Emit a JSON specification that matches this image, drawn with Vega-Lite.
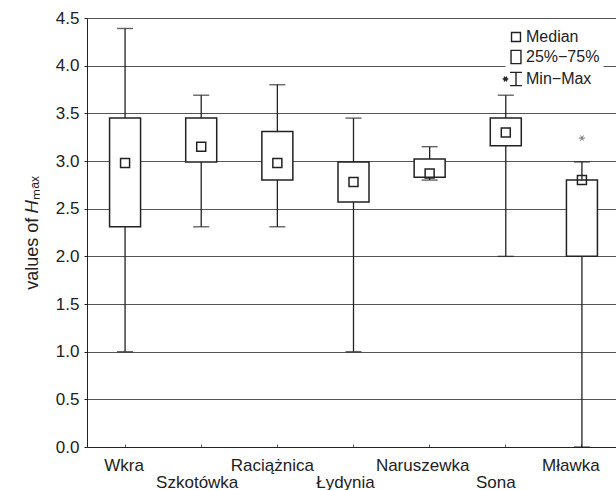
{
  "$schema": "https://vega.github.io/schema/vega-lite/v6.json",
  "width": 529,
  "height": 429,
  "autosize": {"type": "none"},
  "padding": {"left": 87, "top": 18, "right": 0, "bottom": 43},
  "background": "white",
  "config": {
    "font": "Liberation Sans",
    "view": {"stroke": "transparent"},
    "axis": {"labelFont": "Liberation Sans", "titleFont": "Liberation Sans"}
  },
  "datasets": {
    "boxes": [
      {"station": "Wkra", "min": 1.0, "q1": 2.31, "median": 2.98, "q3": 3.45, "max": 4.39},
      {"station": "Szkotówka", "min": 2.31, "q1": 2.99, "median": 3.15, "q3": 3.45, "max": 3.69},
      {"station": "Raciążnica", "min": 2.31, "q1": 2.8, "median": 2.98, "q3": 3.31, "max": 3.8},
      {"station": "Łydynia", "min": 1.0, "q1": 2.57, "median": 2.78, "q3": 2.99, "max": 3.45},
      {"station": "Naruszewka", "min": 2.8, "q1": 2.83, "median": 2.87, "q3": 3.02, "max": 3.15},
      {"station": "Sona", "min": 2.0, "q1": 3.16, "median": 3.3, "q3": 3.45, "max": 3.69},
      {"station": "Mławka", "min": 0.0, "q1": 2.0, "median": 2.8, "q3": 2.8, "max": 2.99}
    ],
    "outliers": [{"station": "Mławka", "value": 3.24}],
    "legend": [{"item": "Median"}, {"item": "25%−75%"}, {"item": "Min−Max"}]
  },
  "layer": [
    {
      "data": {"name": "boxes"},
      "mark": {"type": "rule", "color": "#222", "strokeWidth": 1.3},
      "encoding": {
        "x": {
          "field": "station", "type": "nominal", "sort": null,
          "scale": {"domain": ["Wkra", "Szkotówka", "Raciążnica", "Łydynia", "Naruszewka", "Sona", "Mławka"], "range": [0, 533], "paddingInner": 0, "paddingOuter": 0},
          "axis": {
            "title": null, "labelAngle": 0, "labelFontSize": 17, "labelColor": "#222",
            "domainColor": "#222", "tickColor": "#555", "tickSize": -3, "grid": false,
            "labelPadding": {"condition": {"test": "indexof(['Szkotówka','Łydynia','Sona'], datum.value) >= 0", "value": 30}, "value": 13},
            "labelOffset": {"condition": [
              {"test": "datum.value === 'Wkra'", "value": -1},
              {"test": "datum.value === 'Szkotówka'", "value": -4},
              {"test": "datum.value === 'Raciążnica'", "value": -5},
              {"test": "datum.value === 'Łydynia'", "value": -8},
              {"test": "datum.value === 'Naruszewka'", "value": -7},
              {"test": "datum.value === 'Sona'", "value": -10}
            ], "value": -11}
          }
        },
        "y": {
          "field": "q3", "type": "quantitative", "title": "values of 𝐻ₘₐₓ",
          "scale": {"domain": [0, 4.5], "nice": false, "zero": false},
          "axis": {
            "titleFontSize": 18, "titleFontWeight": "normal", "titleColor": "#222", "titlePadding": 14,
            "values": [0, 0.5, 1, 1.5, 2, 2.5, 3, 3.5, 4, 4.5], "format": ".1f",
            "labelFontSize": 17, "labelColor": "#222", "labelPadding": 5, "tickSize": 3, "tickColor": "#222",
            "domainColor": "#222", "grid": true, "gridColor": "#555", "gridWidth": 1
          }
        },
        "y2": {"field": "max"}
      }
    },
    {
      "data": {"name": "boxes"},
      "mark": {"type": "rule", "color": "#222", "strokeWidth": 1.3},
      "encoding": {
        "x": {"field": "station", "type": "nominal", "sort": null},
        "y": {"field": "min", "type": "quantitative", "title": "values of 𝐻ₘₐₓ"},
        "y2": {"field": "q1"}
      }
    },
    {
      "data": {"name": "boxes"},
      "mark": {"type": "tick", "color": "#222", "size": 16, "thickness": 1.4},
      "encoding": {
        "x": {"field": "station", "type": "nominal", "sort": null},
        "y": {"field": "max", "type": "quantitative", "title": "values of 𝐻ₘₐₓ"}
      }
    },
    {
      "data": {"name": "boxes"},
      "mark": {"type": "tick", "color": "#222", "size": 16, "thickness": 1.4},
      "encoding": {
        "x": {"field": "station", "type": "nominal", "sort": null},
        "y": {"field": "min", "type": "quantitative", "title": "values of 𝐻ₘₐₓ"}
      }
    },
    {
      "data": {"name": "boxes"},
      "mark": {"type": "bar", "size": 31, "fill": "white", "stroke": "#222", "strokeWidth": 1.5},
      "encoding": {
        "x": {"field": "station", "type": "nominal", "sort": null},
        "y": {"field": "q1", "type": "quantitative", "title": "values of 𝐻ₘₐₓ"},
        "y2": {"field": "q3"}
      }
    },
    {
      "data": {"name": "boxes"},
      "mark": {"type": "point", "shape": "square", "size": 81, "filled": false, "stroke": "#222", "strokeWidth": 1.5, "opacity": 1},
      "encoding": {
        "x": {"field": "station", "type": "nominal", "sort": null},
        "y": {"field": "median", "type": "quantitative", "title": "values of 𝐻ₘₐₓ"}
      }
    },
    {
      "data": {"name": "outliers"},
      "mark": {"type": "point", "shape": "M-1,0H1M-0.5,-0.866L0.5,0.866M-0.5,0.866L0.5,-0.866", "size": 36, "filled": false, "stroke": "#777", "strokeWidth": 1, "opacity": 1},
      "encoding": {
        "x": {"field": "station", "type": "nominal", "sort": null},
        "y": {"field": "value", "type": "quantitative", "title": "values of 𝐻ₘₐₓ"}
      }
    },
    {
      "data": {"name": "legend"},
      "mark": {"type": "point", "filled": false, "opacity": 0, "stroke": "#222"},
      "encoding": {
        "shape": {
          "field": "item", "type": "nominal", "sort": null,
          "scale": {
            "domain": ["Median", "25%−75%", "Min−Max"],
            "range": [
              "M-0.64,-0.64H0.64V0.64H-0.64Z",
              "M-0.71,-0.95H0.71V0.95H-0.71Z",
              "M-0.85,-0.95H0.85M0,-0.95V0.95M-0.85,0.95H0.85M-1.9,0H-1.1M-1.7,-0.35L-1.3,0.35M-1.7,0.35L-1.3,-0.35"
            ]
          },
          "legend": {
            "orient": "none", "legendX": 418, "legendY": 8, "title": null,
            "symbolSize": 196, "symbolStrokeColor": "#222", "symbolFillColor": "transparent", "symbolStrokeWidth": 1.4, "symbolOpacity": 1,
            "labelFont": "Liberation Sans", "labelFontSize": 16, "labelColor": "#222", "labelOffset": 2, "labelLimit": 0,
            "rowPadding": 2, "padding": 3, "fillColor": "white", "strokeColor": "transparent"
          }
        }
      }
    }
  ]
}
